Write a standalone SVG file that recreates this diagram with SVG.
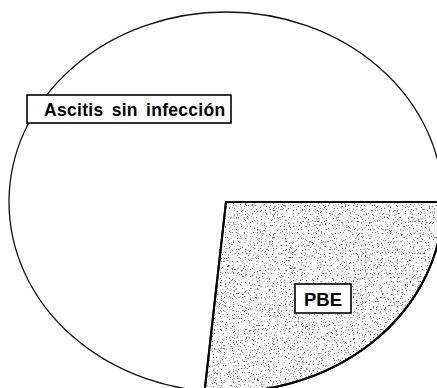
<svg xmlns="http://www.w3.org/2000/svg" width="437" height="388" viewBox="0 0 437 388">
<style>
.pie{fill:#fff;stroke:#111;stroke-width:1.3}
.wedge{fill:#fff;stroke:#000;stroke-width:2}
.box{fill:#fff;stroke:#000;stroke-width:1.6}
.lbl{font-family:"Liberation Sans",Arial,sans-serif;font-weight:bold;fill:#000}
</style>
<defs>
<filter id="stip" x="0" y="0" width="100%" height="100%">
<feTurbulence type="fractalNoise" baseFrequency="0.75" numOctaves="2" seed="7" result="n"/>
<feColorMatrix in="n" type="matrix" values="0 0 0 0 0.15  0 0 0 0 0.15  0 0 0 0 0.15  7 0 0 0 -4.0" result="d"/>
<feComposite in="d" in2="SourceAlpha" operator="in" result="dc"/>
<feMerge><feMergeNode in="SourceGraphic"/><feMergeNode in="dc"/></feMerge>
</filter>
</defs>
<rect width="437" height="388" fill="#fff"/>
<g id="pie">
<ellipse class="pie" cx="226" cy="202" rx="217" ry="190"/>
</g>
<g id="pbe-slice">
<path class="wedge" filter="url(#stip)" d="M226,202 L443,202 A217,190 0 0,1 204.6,391.1 Z"/>
<path d="M226,202 L443,202 A217,190 0 0,1 204.6,391.1 Z" fill="none" stroke="#000" stroke-width="2"/>
</g>
<g id="label-ascitis">
<rect class="box" x="27" y="95" width="204" height="28"/>
<text class="lbl" x="44" y="115.5" font-size="17.5" letter-spacing="0.3" word-spacing="3">Ascitis sin infección</text>
</g>
<g id="label-pbe">
<rect class="box" x="295" y="284" width="56" height="29"/>
<text class="lbl" x="304" y="306" font-size="18.5">PBE</text>
</g>
</svg>
